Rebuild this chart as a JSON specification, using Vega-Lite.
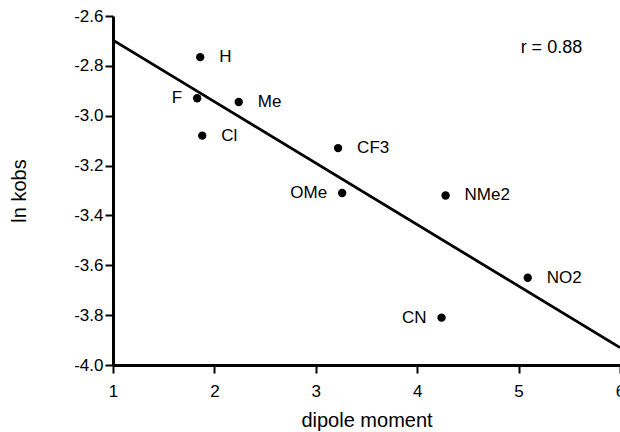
{
  "$schema": "https://vega.github.io/schema/vega-lite/v6.json",
  "autosize": {"type": "none"},
  "padding": {"left": 113, "top": 16, "right": 0, "bottom": 67},
  "width": 507,
  "height": 349,
  "background": "white",
  "config": {
    "view": {"stroke": null},
    "font": "Liberation Sans",
    "axis": {
      "grid": false,
      "domainColor": "black",
      "domainWidth": 3,
      "tickColor": "black",
      "tickWidth": 2,
      "tickSize": 8,
      "labelFlush": false,
      "labelOverlap": false,
      "labelColor": "black",
      "labelFontSize": 17,
      "titleColor": "black",
      "titleFontSize": 20,
      "titleFontWeight": "normal",
      "labelFont": "Liberation Sans",
      "titleFont": "Liberation Sans"
    }
  },
  "datasets": {
    "pts": [
      {"label": "H", "dipole": 1.86, "lnk": -2.765},
      {"label": "F", "dipole": 1.83, "lnk": -2.93},
      {"label": "Me", "dipole": 2.24, "lnk": -2.945},
      {"label": "Cl", "dipole": 1.88, "lnk": -3.08},
      {"label": "CF3", "dipole": 3.22, "lnk": -3.13},
      {"label": "OMe", "dipole": 3.26, "lnk": -3.31},
      {"label": "NMe2", "dipole": 4.28, "lnk": -3.32},
      {"label": "NO2", "dipole": 5.09, "lnk": -3.65},
      {"label": "CN", "dipole": 4.24, "lnk": -3.81}
    ],
    "fit": [
      {"dipole": 1, "lnk": -2.697},
      {"dipole": 6, "lnk": -3.93}
    ],
    "note": [
      {"dipole": 5.02, "lnk": -2.73, "text": "r = 0.88"}
    ]
  },
  "layer": [
    {
      "data": {"name": "fit"},
      "mark": {"type": "line", "color": "black", "strokeWidth": 2.8, "clip": true},
      "encoding": {
        "x": {
          "field": "dipole", "type": "quantitative",
          "scale": {"domain": [1, 6], "nice": false, "zero": false},
          "axis": {"values": [1, 2, 3, 4, 5, 6], "format": "d", "title": "dipole moment", "labelPadding": 10, "titlePadding": 11}
        },
        "y": {
          "field": "lnk", "type": "quantitative",
          "scale": {"domain": [-4.0, -2.6], "nice": false, "zero": false},
          "axis": {"values": [-4.0, -3.8, -3.6, -3.4, -3.2, -3.0, -2.8, -2.6], "format": ".1f", "labelExpr": "replace(format(datum.value, '.1f'), '\u2212', '-')", "title": "ln kobs", "titlePadding": 44, "labelPadding": 2}
        }
      }
    },
    {
      "mark": {"type": "rule", "color": "black", "strokeWidth": 3},
      "encoding": {"y": {"datum": -2.6}}
    },
    {
      "data": {"name": "pts"},
      "mark": {"type": "point", "shape": "circle", "filled": true, "color": "black", "opacity": 1, "size": 70},
      "encoding": {
        "x": {"field": "dipole", "type": "quantitative"},
        "y": {"field": "lnk", "type": "quantitative"}
      }
    },
    {
      "data": {"name": "pts"},
      "transform": [{"filter": {"not": {"field": "label", "oneOf": ["F", "OMe", "CN"]}}}],
      "mark": {"type": "text", "align": "left", "baseline": "middle", "dx": 19, "fontSize": 17, "color": "black"},
      "encoding": {
        "x": {"field": "dipole", "type": "quantitative"},
        "y": {"field": "lnk", "type": "quantitative"},
        "text": {"field": "label"}
      }
    },
    {
      "data": {"name": "pts"},
      "transform": [{"filter": {"field": "label", "oneOf": ["F", "OMe", "CN"]}}],
      "mark": {"type": "text", "align": "right", "baseline": "middle", "dx": -15, "fontSize": 17, "color": "black"},
      "encoding": {
        "x": {"field": "dipole", "type": "quantitative"},
        "y": {"field": "lnk", "type": "quantitative"},
        "text": {"field": "label"}
      }
    },
    {
      "data": {"name": "note"},
      "mark": {"type": "text", "align": "left", "baseline": "middle", "fontSize": 18, "color": "black"},
      "encoding": {
        "x": {"field": "dipole", "type": "quantitative"},
        "y": {"field": "lnk", "type": "quantitative"},
        "text": {"field": "text"}
      }
    }
  ]
}
